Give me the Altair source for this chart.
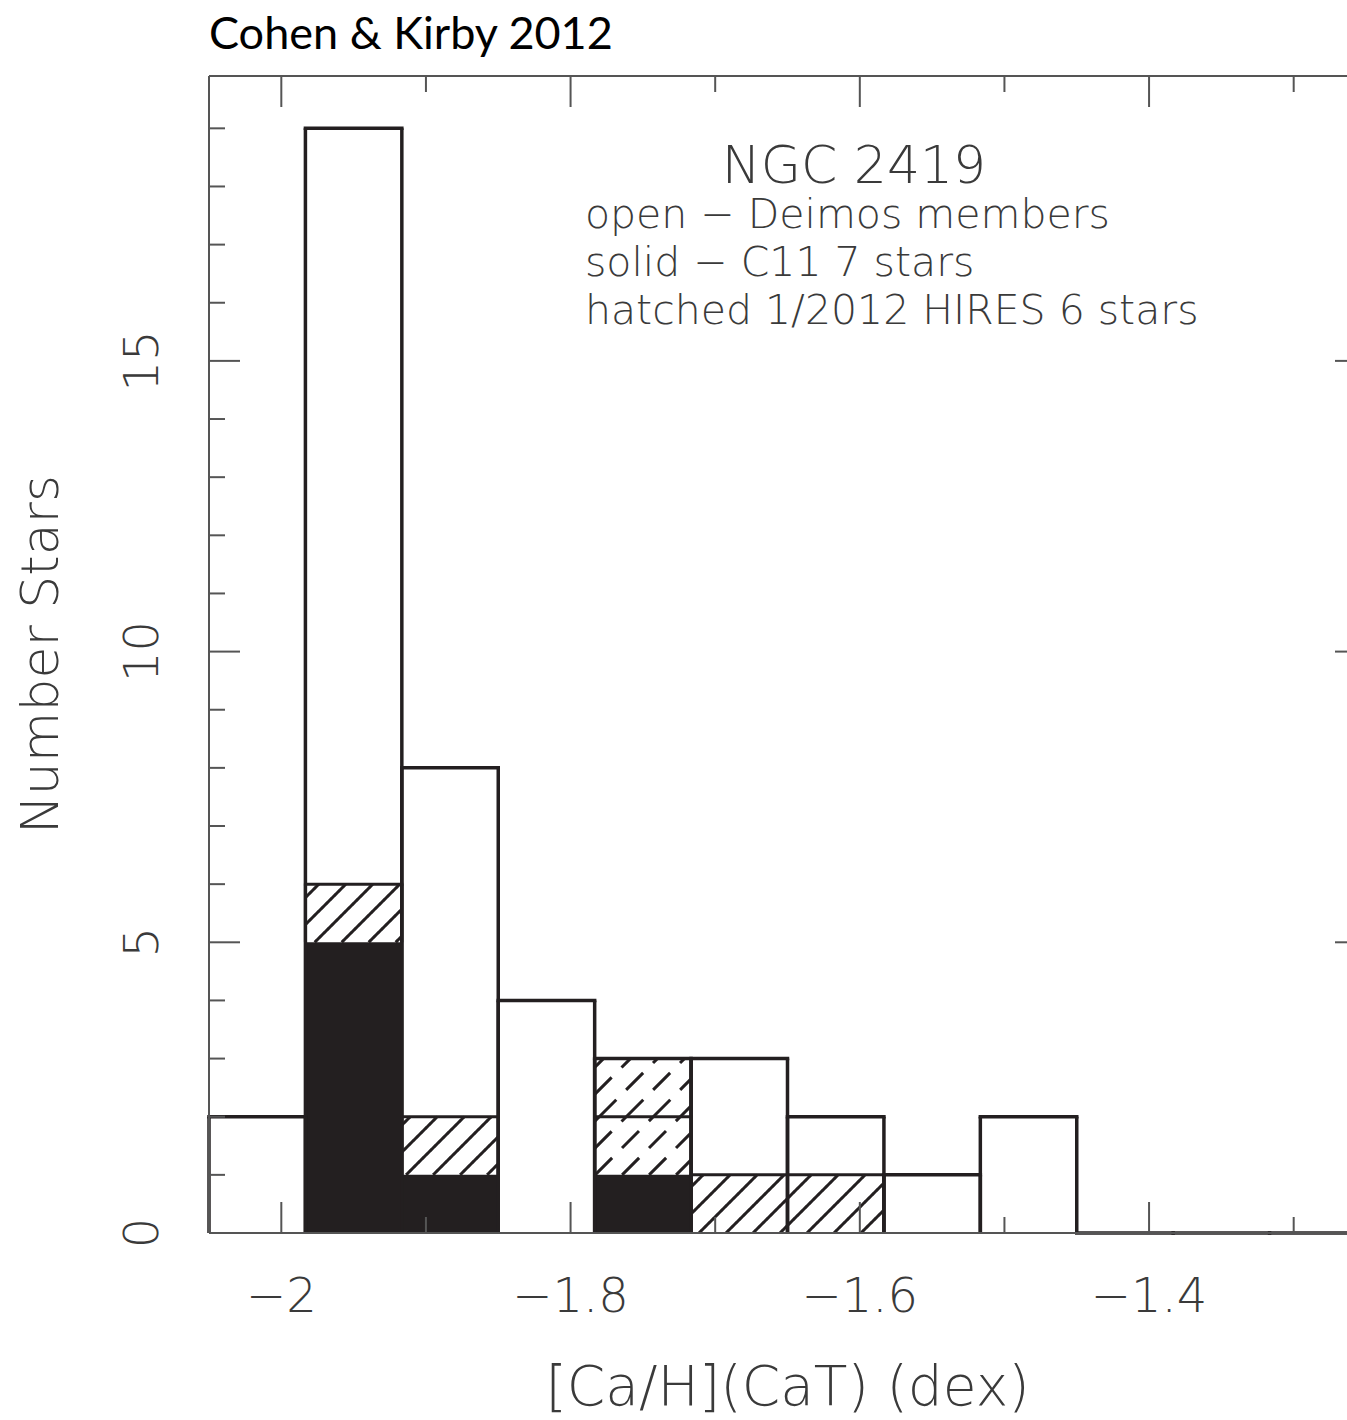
import altair as alt
import pandas as pd

# ---- data -------------------------------------------------------------
bin_start = -2.05
bin_width = 1.0 / 15.0
open_counts = [2, 19, 8, 4, 3, 3, 2, 1, 2, 0, 0, 0]      # Deimos members
solid_counts = [0, 5, 1, 0, 1, 0, 0, 0, 0, 0, 0, 0]      # C11, 7 stars
hatched_counts = [0, 1, 1, 0, 2, 1, 1, 0, 0, 0, 0, 0]    # HIRES 1/2012, 6 stars

x_major = [-2.0, -1.8, -1.6, -1.4]
x_major_labels = ["\u22122", "\u22121.8", "\u22121.6", "\u22121.4"]
x_minor = [-1.9, -1.7, -1.5, -1.3]
y_major = [0, 5, 10, 15]
y_major_labels = ["0", "5", "10", "15"]
y_minor = [v for v in range(1, 20) if v % 5]

title_text = "Cohen & Kirby 2012"
legend_head = "NGC 2419"
legend_lines = [
    "open \u2212 Deimos members",
    "solid \u2212 C11 7 stars",
    "hatched 1/2012 HIRES 6 stars",
]
x_title = "[Ca/H](CaT) (dex)"
y_title = "Number Stars"

# ---- geometry -------------------------------------------------------------
W, H = 1138, 1157
X_MIN = -2.05
X_MAX = -2.05 + 0.8 * W / 1157.0
Y_MAX = 19.9

INK = "#231f20"
FRAME = "#555555"
TEXT = "#3a3a3a"
LABEL_FONT = "DejaVu Sans"

xs = alt.Scale(domain=[X_MIN, X_MAX], nice=False, zero=False)
ys = alt.Scale(domain=[0, Y_MAX], nice=False, zero=True)

edges = [bin_start + i * bin_width for i in range(len(open_counts) + 1)]

open_df = pd.DataFrame({"x0": edges[:-1], "x1": edges[1:], "n": open_counts})
solid_df = pd.DataFrame({"x0": edges[:-1], "x1": edges[1:], "n": solid_counts})
solid_df = solid_df[solid_df.n > 0]

# one box per hatched star, stacked on top of the solid part
boxes = []
for i, (s, h) in enumerate(zip(solid_counts, hatched_counts)):
    for k in range(h):
        boxes.append({"x0": edges[i], "x1": edges[i + 1], "y0": s + k, "y1": s + k + 1,
                      "dashed": h > 1})
box_df = pd.DataFrame(boxes)


def px(v):
    return (v - X_MIN) / (X_MAX - X_MIN) * W


def py(c):
    return H - c / Y_MAX * H


def dx(p):
    return X_MIN + p / W * (X_MAX - X_MIN)


def dy(p):
    return (H - p) / H * Y_MAX


# 45-degree hatching clipped to each hatched box
SPACING = 27.0
segs = []
for b in boxes:
    l, r = px(b["x0"]), px(b["x1"])
    t, bt = py(b["y1"]), py(b["y0"])
    k = (int((l + t) // SPACING) + 1) * SPACING
    while k < r + bt:
        xa = max(l, k - bt)
        xb = min(r, k - t)
        if xb - xa > 0.5:
            segs.append({"hx": dx(xa), "hy": dy(k - xa), "hx2": dx(xb), "hy2": dy(k - xb),
                         "dashed": b["dashed"]})
        k += SPACING
hatch_df = pd.DataFrame(segs)

one = alt.Data(values=[{}])

# ---- layers --------------------------------------------------------------
solid = alt.Chart(solid_df).mark_rect(fill=INK, stroke=None).encode(
    x=alt.X("x0:Q", scale=xs, axis=None), x2="x1:Q",
    y=alt.Y("n:Q", scale=ys, axis=None), y2=alt.datum(0),
)

hatch = alt.Chart(hatch_df).mark_rule(color=INK, strokeWidth=3, strokeCap="butt").encode(
    x=alt.X("hx:Q", scale=xs, axis=None), x2="hx2:Q",
    y=alt.Y("hy:Q", scale=ys, axis=None), y2="hy2:Q",
    strokeDash=alt.condition("datum.dashed", alt.value([24, 14]), alt.value([1, 0])),
)


def outline(df, lo, hi, width):
    """Top edge and both side edges of each bar (the base is left open)."""
    top = alt.Chart(df).mark_rule(color=INK, strokeWidth=width, strokeCap="square").encode(
        x=alt.X("x0:Q", scale=xs, axis=None), x2="x1:Q",
        y=alt.Y(f"{hi}:Q", scale=ys, axis=None))
    sides = []
    for edge in ("x0", "x1"):
        sides.append(alt.Chart(df).mark_rule(color=INK, strokeWidth=width).encode(
            x=alt.X(f"{edge}:Q", scale=xs, axis=None),
            y=alt.Y(f"{hi}:Q", scale=ys, axis=None),
            y2=alt.datum(0) if lo is None else alt.Y2(f"{lo}:Q")))
    return [top] + sides


box_outline = outline(box_df, "y0", "y1", 3)
open_outline = outline(open_df, None, "n", 3.5)

# frame: top, left and bottom edges
frame = [
    alt.Chart(one).mark_rule(color=FRAME, strokeWidth=2).encode(
        x=alt.value(0), x2=alt.value(W), y=alt.value(0)),
    alt.Chart(one).mark_rule(color=FRAME, strokeWidth=2).encode(
        x=alt.value(0), y=alt.value(0), y2=alt.value(H)),
    alt.Chart(one).mark_rule(color=FRAME, strokeWidth=2).encode(
        x=alt.value(0), x2=alt.value(W), y=alt.value(H)),
]

MAJOR, MINOR = 31, 16


def xticks(vals, length):
    d = pd.DataFrame({"t": vals})
    bottom = alt.Chart(d).mark_rule(color=FRAME, strokeWidth=2).encode(
        x=alt.X("t:Q", scale=xs, axis=None), y=alt.value(H), y2=alt.value(H - length))
    top = alt.Chart(d).mark_rule(color=FRAME, strokeWidth=2).encode(
        x=alt.X("t:Q", scale=xs, axis=None), y=alt.value(0), y2=alt.value(length))
    return [bottom, top]


def yticks(vals, length, right=True):
    d = pd.DataFrame({"t": vals})
    out = [alt.Chart(d).mark_rule(color=FRAME, strokeWidth=2).encode(
        y=alt.Y("t:Q", scale=ys, axis=None), x=alt.value(0), x2=alt.value(length))]
    if right:
        out.append(alt.Chart(d).mark_rule(color=FRAME, strokeWidth=2).encode(
            y=alt.Y("t:Q", scale=ys, axis=None),
            x=alt.value(W + 19 - length), x2=alt.value(W)))
    return out


ticks = (xticks(x_major, MAJOR) + xticks(x_minor, MINOR)
         + yticks([v for v in y_major if v > 0], MAJOR) + yticks(y_minor, MINOR, right=False))

x_labels = alt.Chart(pd.DataFrame({"t": x_major, "s": x_major_labels})).mark_text(
    font=LABEL_FONT, fontWeight=200, fontSize=48, color=TEXT, align="center",
    baseline="alphabetic").encode(
    x=alt.X("t:Q", scale=xs, axis=None), y=alt.value(H + 79), text="s:N")

y_labels = alt.Chart(pd.DataFrame({"t": y_major, "s": y_major_labels})).mark_text(
    font=LABEL_FONT, fontWeight=200, fontSize=48, color=TEXT, align="center",
    baseline="alphabetic", angle=270).encode(
    y=alt.Y("t:Q", scale=ys, axis=None), x=alt.value(-51), text="s:N")

x_title_mark = alt.Chart(one).mark_text(
    font=LABEL_FONT, fontWeight=200, fontSize=55, color=TEXT, align="center",
    baseline="alphabetic", text=x_title).encode(
    x=alt.value(1157 / 2), y=alt.value(H + 172))

y_title_mark = alt.Chart(one).mark_text(
    font=LABEL_FONT, fontWeight=200, fontSize=52, color=TEXT, align="center",
    baseline="alphabetic", angle=270, text=y_title).encode(
    x=alt.value(-151), y=alt.value(H / 2))

head = alt.Chart(one).mark_text(
    font=LABEL_FONT, fontWeight=200, fontSize=52, color=TEXT, align="center",
    baseline="alphabetic", text=legend_head).encode(
    x=alt.value(645), y=alt.value(107))

legend = alt.Chart(pd.DataFrame({"s": legend_lines, "row": range(len(legend_lines))})).mark_text(
    font=LABEL_FONT, fontWeight=200, fontSize=41, color=TEXT, align="left",
    baseline="alphabetic").encode(
    x=alt.value(376),
    y=alt.Y("row:O", axis=None, scale=alt.Scale(type="point", range=[152, 248], padding=0)),
    text="s:N")

title_mark = alt.Chart(one).mark_text(
    font="Lato", fontSize=45, color="#000000", align="left",
    baseline="alphabetic", text=title_text).encode(
    x=alt.value(0), y=alt.value(-27))

chart = alt.layer(
    solid, hatch, *box_outline, *open_outline,
    *frame, *ticks,
    x_labels, y_labels, x_title_mark, y_title_mark, head, legend, title_mark,
).resolve_scale(y="independent").properties(
    width=W, height=H,
    padding={"left": 209, "top": 76, "right": 0, "bottom": 187},
    autosize=alt.AutoSizeParams(type="none"),
).configure_view(stroke=None).configure(background="white")

chart.save("out.html", embed_options={"renderer": "svg", "actions": False})
